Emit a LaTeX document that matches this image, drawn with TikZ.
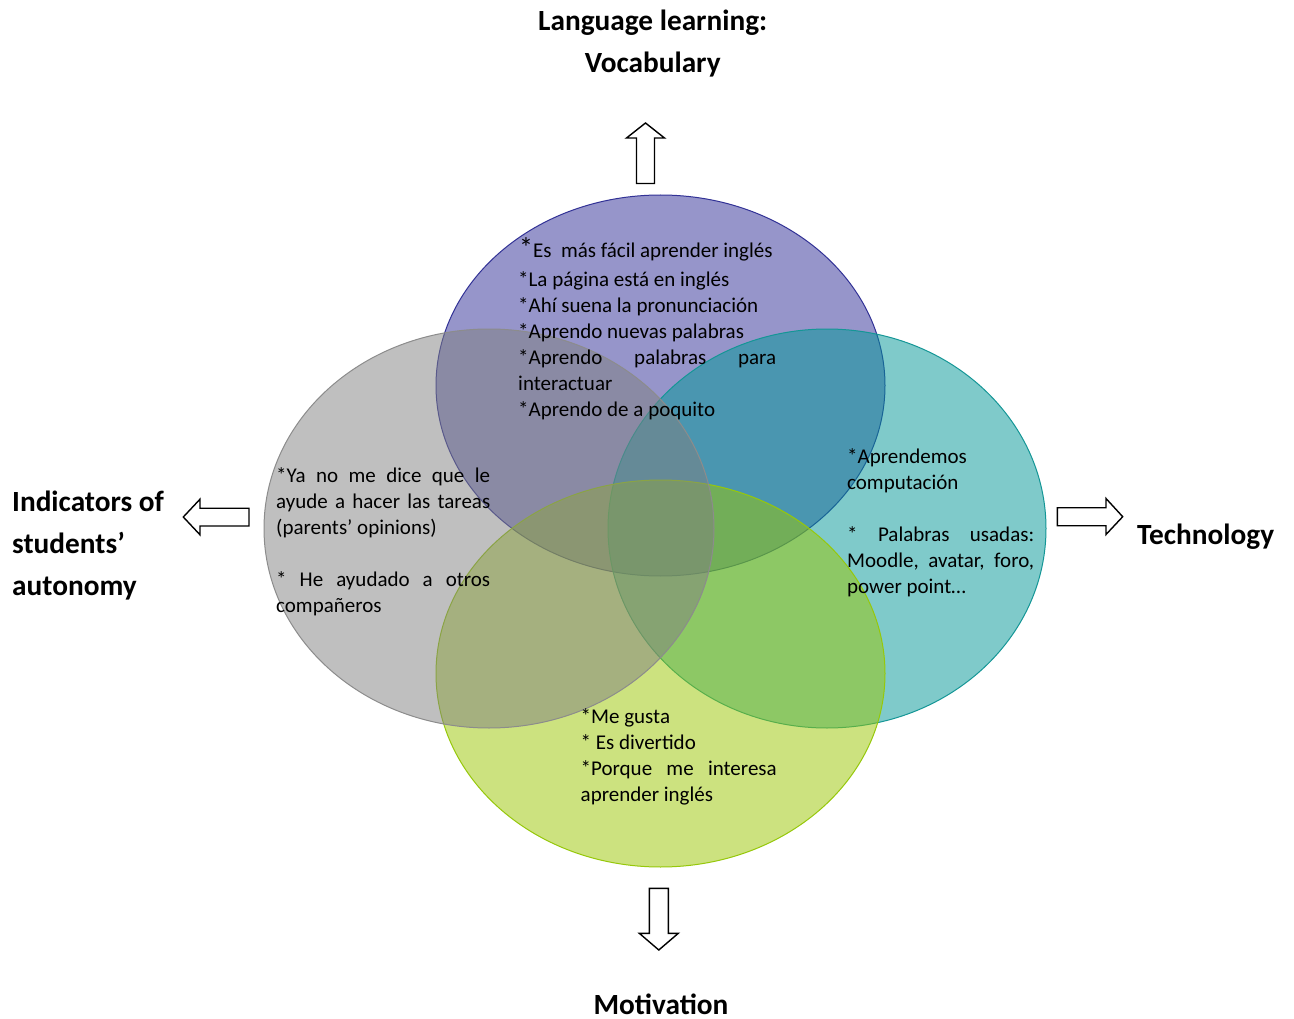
\documentclass[tikz,border=0pt]{standalone}
\usepackage{fontspec}
\setmainfont{Carlito}
\usetikzlibrary{shapes.geometric}
\definecolor{cpurple}{RGB}{47,45,151}
\definecolor{cteal}{RGB}{0,151,151}
\definecolor{cgreen}{RGB}{155,199,1}
\definecolor{cgray}{RGB}{128,128,128}
\definecolor{spurple}{RGB}{50,50,150}
\definecolor{steal}{RGB}{20,150,150}
\definecolor{sgreen}{RGB}{150,200,10}
\definecolor{sgray}{RGB}{140,140,140}
\newcommand{\bodyset}{\parindent=0pt\relax\parskip=0pt\relax\hyphenpenalty=10000\relax\exhyphenpenalty=10000\relax\hbadness=10000\relax\tolerance=10000\relax}
\hyphenpenalty=10000
\begin{document}
\begin{tikzpicture}[x=1pt,y=-1pt,
  blob/.style={ellipse, inner sep=0pt, outer sep=0pt, fill opacity=0.5, line width=1pt},
  body/.style={inner sep=0pt, anchor=base west, align=justify,
    font=\fontsize{21}{26}\selectfont},
  title/.style={inner sep=0pt, font=\fontsize{29.3}{42}\selectfont\bfseries},
  blockarrow/.style={draw=black, fill=white, line width=1.4pt, line join=miter}]
\useasboundingbox (0,0) rectangle (1294,1019);
\fill[white] (0,0) rectangle (1294,1019);

% ellipses (drawing order: top, right, bottom, left)
\node[blob, fill=cpurple, draw=spurple, minimum width=449pt, minimum height=381pt] (vocabE) at (660.5,385.5) {};
\node[blob, fill=cteal, draw=steal, minimum width=438pt, minimum height=399pt] (techE) at (827,528.5) {};
\node[blob, fill=cgreen, draw=sgreen, minimum width=449pt, minimum height=387pt] (motE) at (660.5,673.5) {};
\node[blob, fill=cgray, draw=sgray, minimum width=450pt, minimum height=399pt] (autE) at (489,528.5) {};

% block arrows
\draw[blockarrow] (645.5,123) -- (664.5,138) -- (654.5,138) -- (654.5,183.5) -- (636.5,183.5) -- (636.5,138) -- (626.5,138) -- cycle;
\draw[blockarrow] (183.3,517) -- (200,499.2) -- (200,508.2) -- (249,508.2) -- (249,526) -- (200,526) -- (200,534.8) -- cycle;
\draw[blockarrow] (1122.7,516.7) -- (1106,498.5) -- (1106,507.7) -- (1057.3,507.7) -- (1057.3,525.7) -- (1106,525.7) -- (1106,534.5) -- cycle;
\draw[blockarrow] (658.8,950) -- (678.3,933.3) -- (668.3,933.3) -- (668.3,888.3) -- (649.3,888.3) -- (649.3,933.3) -- (639.3,933.3) -- cycle;

% texts inside the ellipses
\node[body, text width=258pt] (vocabT) at (518,258) {\bodyset\mbox{\hspace{1pt}{\fontsize{28}{26}\selectfont *}Es\ \ más fácil aprender inglés}\par\vspace{3pt}
*La página está en inglés\par
*Ahí suena la pronunciación\par
*Aprendo nuevas palabras\par
*Aprendo palabras para\linebreak interactuar\par
*Aprendo de a poquito};

\node[body, text width=214pt] (autT) at (276,482) {\bodyset*Ya no me dice que le\linebreak ayude a hacer las tareas\linebreak (parents’ opinions)\par\vspace{26pt}
* He ayudado a otros\linebreak compañeros};

\node[body, text width=187pt] (techT) at (847,463.5) {\bodyset*Aprendemos\newline computación\par\vspace{26pt}
* Palabras usadas:\linebreak Moodle, avatar, foro,\linebreak power point…};

\node[body, text width=196pt] (motT) at (580.5,723) {\bodyset*Me gusta\par
* Es divertido\par
*Porque me interesa\linebreak aprender inglés};

% outer labels
\node[title, anchor=base, align=center] (vocabL) at (652.7,72.5) {Language learning:\\Vocabulary};
\node[title, anchor=base west, align=left] (autL) at (12,595) {Indicators of\\students’\\autonomy};
\node[title, anchor=base west] (techL) at (1137,544) {Technology};
\node[title, anchor=base] (motL) at (661,1014) {Motivation};
\end{tikzpicture}
\end{document}
